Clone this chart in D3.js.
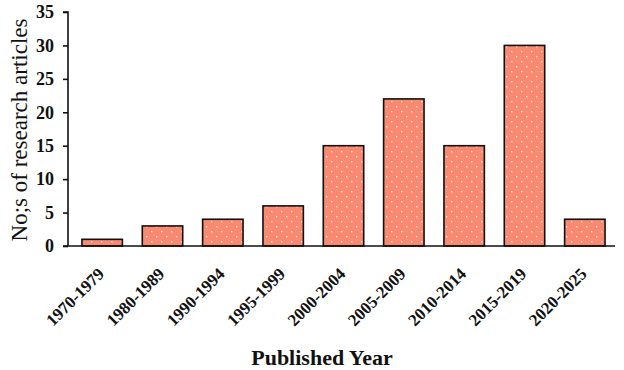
<!DOCTYPE html>
<html>
<head>
<meta charset="utf-8">
<script src="https://cdn.jsdelivr.net/npm/d3@7"></script>
<style>
  body { margin: 0; background: #fff; }
  text { font-family: "Palatino Linotype", "Book Antiqua", "Liberation Serif", serif; fill: #111; }
</style>
</head>
<body>
<div id="chart"></div>
<script>
// data
const periods = ["1970-1979", "1980-1989", "1990-1994", "1995-1999", "2000-2004",
                 "2005-2009", "2010-2014", "2015-2019", "2020-2025"];
const counts = [1, 3, 4, 6, 15, 22, 15, 30, 4];
const yTicks = [0, 5, 10, 15, 20, 25, 30, 35];

const width = 624, height = 370;
const axisX = 68, plotRight = 615, plotTop = 12, plotBottom = 246;

const svg = d3.select("#chart")
    .append("svg")
    .attr("width", width)
    .attr("height", height);

// dotted fill
const defs = svg.append("defs");
const pat = defs.append("pattern")
    .attr("id", "dots")
    .attr("patternUnits", "userSpaceOnUse")
    .attr("width", 10)
    .attr("height", 10);
pat.append("rect").attr("width", 10).attr("height", 10).attr("fill", "#f98a71");
pat.append("rect").attr("x", 1).attr("y", 1).attr("width", 1.4).attr("height", 1.4).attr("fill", "#fde6df");
pat.append("rect").attr("x", 6).attr("y", 6).attr("width", 1.4).attr("height", 1.4).attr("fill", "#fde6df");

const x = d3.scaleBand()
    .domain(periods)
    .range([72, plotRight])
    .paddingInner(0.33)
    .paddingOuter(0.165);

const y = d3.scaleLinear()
    .domain([0, 35])
    .range([plotBottom, plotTop]);

// bars
svg.append("g")
    .selectAll("rect")
    .data(periods)
    .join("rect")
    .attr("x", (d) => x(d))
    .attr("y", (d, i) => y(counts[i]))
    .attr("width", x.bandwidth())
    .attr("height", (d, i) => y(0) - y(counts[i]))
    .attr("fill", "url(#dots)")
    .attr("stroke", "#111")
    .attr("stroke-width", 1.6);

// y axis
const yAxis = svg.append("g")
    .attr("transform", `translate(${axisX},0)`)
    .call(d3.axisLeft(y).tickValues(yTicks).tickSize(5).tickPadding(9));
yAxis.select(".domain").attr("stroke", "#111").attr("stroke-width", 1.6)
    .attr("d", `M-5,${plotTop}H0V${plotBottom}`);
yAxis.selectAll(".tick line").attr("stroke", "#111").attr("stroke-width", 1.6);
yAxis.selectAll(".tick text")
    .style("font-size", "18px")
    .style("font-weight", "bold")
    .attr("fill", "#111");

// x axis line
svg.append("line")
    .attr("x1", axisX - 5).attr("x2", plotRight)
    .attr("y1", plotBottom).attr("y2", plotBottom)
    .attr("stroke", "#111").attr("stroke-width", 1.6);

// x tick labels
svg.append("g")
    .selectAll("text")
    .data(periods)
    .join("text")
    .attr("transform", (d) => `translate(${x(d) + x.bandwidth() / 2 + 3},${plotBottom + 29}) rotate(-45)`)
    .attr("text-anchor", "end")
    .style("font-size", "17px")
    .style("font-weight", "bold")
    .text((d) => d);

// axis titles
svg.append("text")
    .attr("transform", `translate(19,130) rotate(-90)`)
    .attr("text-anchor", "middle")
    .attr("dy", "0.35em")
    .style("font-size", "23px")
    .text("No;s of research articles");

svg.append("text")
    .attr("x", 322)
    .attr("y", 365)
    .attr("text-anchor", "middle")
    .style("font-size", "22px")
    .style("font-weight", "bold")
    .text("Published Year");
</script>
</body>
</html>
